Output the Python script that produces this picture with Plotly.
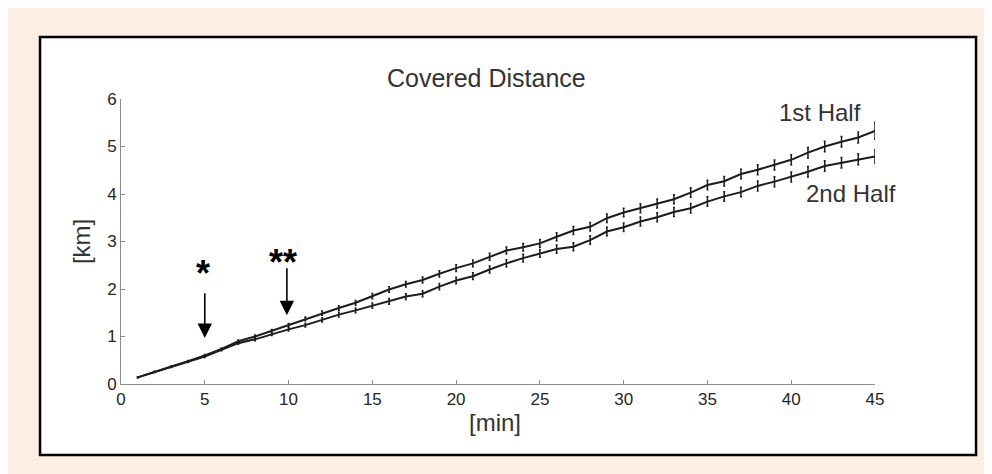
import plotly.graph_objects as go

minutes = list(range(1, 46))
first_half = [0.14, 0.26, 0.37, 0.48, 0.60, 0.74, 0.90, 1.00, 1.12, 1.24,
              1.37, 1.49, 1.60, 1.71, 1.85, 1.99, 2.10, 2.19, 2.32, 2.44,
              2.54, 2.68, 2.81, 2.88, 2.96, 3.10, 3.23, 3.31, 3.49, 3.61,
              3.70, 3.80, 3.89, 4.03, 4.19, 4.27, 4.42, 4.51, 4.61, 4.72,
              4.87, 5.00, 5.10, 5.19, 5.33]
second_half = [0.14, 0.25, 0.36, 0.47, 0.58, 0.72, 0.86, 0.94, 1.05, 1.15,
               1.24, 1.35, 1.46, 1.55, 1.65, 1.74, 1.84, 1.90, 2.05, 2.18,
               2.27, 2.41, 2.54, 2.65, 2.75, 2.84, 2.89, 3.03, 3.21, 3.30,
               3.42, 3.51, 3.62, 3.70, 3.84, 3.95, 4.04, 4.17, 4.26, 4.36,
               4.47, 4.59, 4.66, 4.73, 4.79]
first_err = [0.01, 0.01, 0.01, 0.015, 0.02, 0.02, 0.025, 0.03, 0.03, 0.035,
             0.04, 0.045, 0.05, 0.05, 0.055, 0.06, 0.06, 0.065, 0.065, 0.07,
             0.07, 0.075, 0.075, 0.08, 0.08, 0.085, 0.085, 0.09, 0.09, 0.09,
             0.095, 0.095, 0.095, 0.1, 0.1, 0.1, 0.1, 0.105, 0.105, 0.105,
             0.11, 0.11, 0.11, 0.115, 0.18]
second_err = [0.01, 0.01, 0.01, 0.015, 0.02, 0.02, 0.025, 0.03, 0.03, 0.035,
              0.04, 0.045, 0.05, 0.05, 0.055, 0.06, 0.06, 0.065, 0.065, 0.07,
              0.07, 0.075, 0.075, 0.08, 0.08, 0.085, 0.085, 0.09, 0.09, 0.09,
              0.095, 0.095, 0.095, 0.1, 0.1, 0.1, 0.1, 0.105, 0.105, 0.105,
              0.11, 0.11, 0.11, 0.115, 0.14]
x_ticks = [0, 5, 10, 15, 20, 25, 30, 35, 40, 45]
y_ticks = [0, 1, 2, 3, 4, 5, 6]

FONT = "Liberation Sans, Arial, sans-serif"
INK = "#1c1c1c"

fig = go.Figure()
for name, vals, errs in [("1st Half", first_half, first_err),
                         ("2nd Half", second_half, second_err)]:
    fig.add_trace(go.Scatter(
        x=minutes, y=vals, mode="lines", name=name,
        line=dict(color=INK, width=2),
        error_y=dict(type="data", array=errs, color=INK, thickness=1.5, width=1),
        showlegend=False,
    ))

# white inner frame with black border
fig.add_shape(type="rect", xref="paper", yref="paper", x0=-0.1074, x1=1.1340,
              y0=-0.2491, y1=1.2175, fillcolor="white",
              line=dict(color="black", width=2.5), layer="below")

ann = [
    dict(text="Covered Distance", x=0.4854, y=1.0737, size=25),
    dict(text="[min]", x=0.496, y=-0.1368, size=24),
    dict(text="1st Half", x=0.927, y=0.951, size=24),
    dict(text="2nd Half", x=0.968, y=0.667, size=24),
]
for a in ann:
    fig.add_annotation(text=a["text"], x=a["x"], y=a["y"], xref="paper", yref="paper",
                       showarrow=False, xanchor="center", yanchor="middle",
                       font=dict(family=FONT, size=a["size"], color="#333"))
fig.add_annotation(text="[km]", x=-0.053, y=0.498, xref="paper", yref="paper",
                   showarrow=False, textangle=-90, xanchor="center", yanchor="middle",
                   font=dict(family=FONT, size=24, color="#333"))

# stars and arrows
fig.add_annotation(text="<b>*</b>", x=4.92, y=2.32, xref="x", yref="y", showarrow=False,
                   font=dict(family=FONT, size=36, color="black"))
fig.add_annotation(text="<b>**</b>", x=9.64, y=2.56, xref="x", yref="y", showarrow=False,
                   font=dict(family=FONT, size=36, color="black"))
for xa, ytop, ytip in [(5, 1.94, 0.97), (9.9, 2.47, 1.45)]:
    fig.add_annotation(x=xa, y=ytip, ax=xa, ay=ytop, xref="x", yref="y",
                       axref="x", ayref="y", text="", showarrow=True,
                       arrowhead=2, arrowsize=1.8, arrowwidth=1.6, arrowcolor="black")

axis_common = dict(showline=True, linecolor="#8c8c8c", linewidth=1, ticks="inside",
                   ticklen=4, tickcolor="#8c8c8c", showgrid=False, zeroline=False,
                   tickfont=dict(family=FONT, size=17, color="#262626"))
fig.update_xaxes(range=[0, 45], tickvals=x_ticks, **axis_common)
fig.update_yaxes(range=[0, 6], tickvals=y_ticks, **axis_common)

fig.update_layout(width=992, height=474, margin=dict(l=113, r=125, t=91, b=98),
                  paper_bgcolor="#FDEDE3", plot_bgcolor="rgba(0,0,0,0)")
fig.write_html("out.html")
